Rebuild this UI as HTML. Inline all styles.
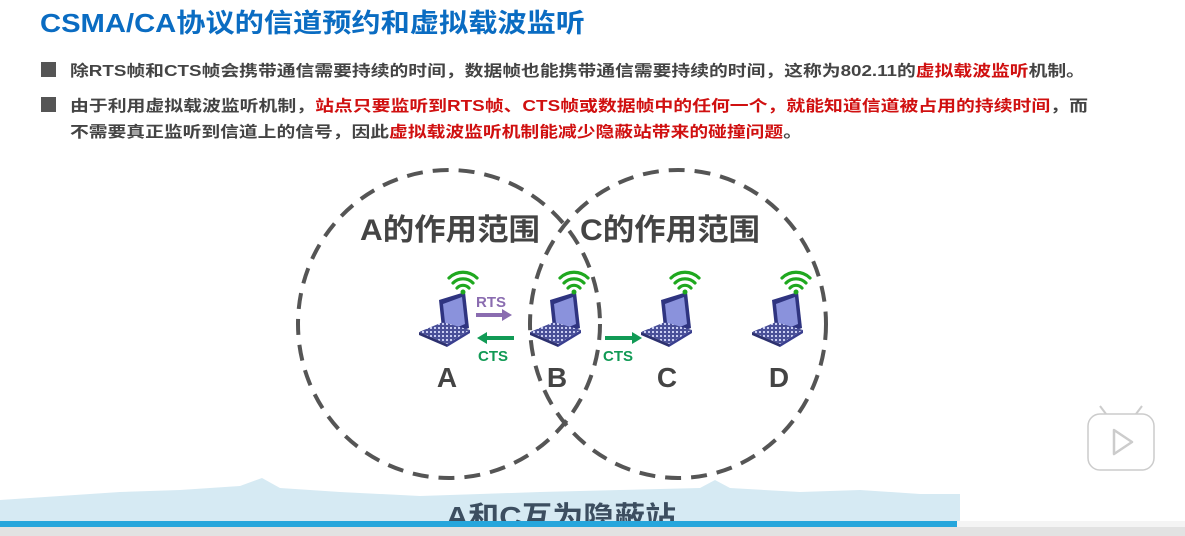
<!DOCTYPE html>
<html><head><meta charset="utf-8"><style>
html,body{margin:0;padding:0;background:#fff;}
svg{display:block;}
text{font-family:"Liberation Sans","Noto Sans CJK SC",sans-serif;font-weight:bold;}
</style></head><body>
<svg width="1185" height="536" viewBox="0 0 1185 536" xmlns="http://www.w3.org/2000/svg">
<rect width="1185" height="536" fill="#fff"/>
<text x="40" y="32" font-size="26" fill="#0a6cc2" textLength="545" lengthAdjust="spacingAndGlyphs">CSMA/CA协议的信道预约和虚拟载波监听</text>
<rect x="41" y="62" width="15" height="15" fill="#555"/>
<rect x="41" y="97" width="15" height="15" fill="#555"/>
<text x="70" y="76" font-size="15.5" fill="#444" textLength="1015" lengthAdjust="spacingAndGlyphs">除RTS帧和CTS帧会携带通信需要持续的时间，数据帧也能携带通信需要持续的时间，这称为802.11的<tspan fill="#d01010">虚拟载波监听</tspan>机制。</text>
<text x="70" y="111" font-size="15.5" fill="#444" textLength="1018" lengthAdjust="spacingAndGlyphs">由于利用虚拟载波监听机制，<tspan fill="#d01010">站点只要监听到RTS帧、CTS帧或数据帧中的任何一个，就能知道信道被占用的持续时间</tspan>，而</text>
<text x="70" y="137" font-size="15.5" fill="#444" textLength="732" lengthAdjust="spacingAndGlyphs">不需要真正监听到信道上的信号，因此<tspan fill="#d01010">虚拟载波监听机制能减少隐蔽站带来的碰撞问题</tspan>。</text>

<!-- bottom band -->
<path d="M0 500 L60 496 L120 492 L180 490 L240 486 L262 478 L280 488 L340 492 L420 496 L480 494 L540 492 L620 490 L700 488 L715 480 L730 488 L800 492 L860 490 L920 494 L960 494 L960 524 L0 524Z" fill="#d6eaf3"/>
<text x="446" y="526" font-size="28" fill="#3c4e60" textLength="230" lengthAdjust="spacingAndGlyphs">A和C互为隐蔽站</text>
<rect x="0" y="521" width="957" height="6" fill="#26a6dc"/>
<rect x="0" y="527" width="1185" height="9" fill="#e2e2e2"/>
<rect x="957" y="521" width="228" height="6" fill="#f4f4f4"/>

<!-- circles -->
<ellipse cx="449" cy="324" rx="151" ry="154" fill="none" stroke="#555" stroke-width="4" stroke-dasharray="16 10"/>
<ellipse cx="678" cy="324" rx="148" ry="154" fill="none" stroke="#555" stroke-width="4" stroke-dasharray="16 10"/>
<text x="360" y="240" font-size="30" fill="#444" textLength="180" lengthAdjust="spacingAndGlyphs">A的作用范围</text>
<text x="580" y="240" font-size="30" fill="#444" textLength="180" lengthAdjust="spacingAndGlyphs">C的作用范围</text>

<defs>
<pattern id="kb" width="4" height="4" patternUnits="userSpaceOnUse"><rect width="4" height="4" fill="#4a5098"/><rect x="1" y="1" width="2" height="2" fill="#c9cdf2"/></pattern>
<g id="lap">
<path d="M-6 -18 L20 -26 L24 10 L-2 20Z" fill="#2f3480"/>
<path d="M-2 -14 L17 -21 L20 6 L1 14Z" fill="#8a92dc"/>
<path d="M-26 14 L-2 4 L25 12 L2 26Z" fill="url(#kb)"/>
<path d="M-26 14 L2 26 L2 29 L-26 17Z" fill="#2d3170"/>
<path d="M2 26 L25 12 L25 15 L2 29Z" fill="#3a3f8f"/>
<g fill="none" stroke="#1fa81f" stroke-width="3.2" stroke-linecap="round">
<path d="M12 -30 a8 8 0 0 1 12 0"/>
<path d="M8 -35 a14 14 0 0 1 20 0"/>
<path d="M4 -40 a20 20 0 0 1 28 0"/>
</g>
<circle cx="18" cy="-26" r="2.5" fill="#1fa81f"/>
</g>
</defs>
<use href="#lap" x="445" y="318"/>
<use href="#lap" x="556" y="318"/>
<use href="#lap" x="667" y="318"/>
<use href="#lap" x="778" y="318"/>

<text x="476" y="307" font-size="15" fill="#8a6cb0">RTS</text>
<path d="M476 315 L504 315" stroke="#8a6cb0" stroke-width="4"/><path d="M502 309 L512 315 L502 321Z" fill="#8a6cb0"/>
<path d="M485 338 L514 338" stroke="#119a55" stroke-width="4"/><path d="M487 332 L477 338 L487 344Z" fill="#119a55"/>
<text x="478" y="361" font-size="15" fill="#119a55">CTS</text>
<path d="M605 338 L634 338" stroke="#119a55" stroke-width="4"/><path d="M632 332 L642 338 L632 344Z" fill="#119a55"/>
<text x="603" y="361" font-size="15" fill="#119a55">CTS</text>

<text x="447" y="387" font-size="28" fill="#444" text-anchor="middle">A</text>
<text x="557" y="387" font-size="28" fill="#444" text-anchor="middle">B</text>
<text x="667" y="387" font-size="28" fill="#444" text-anchor="middle">C</text>
<text x="779" y="387" font-size="28" fill="#444" text-anchor="middle">D</text>

<!-- play button -->
<rect x="1088" y="414" width="66" height="56" rx="12" fill="#fff" stroke="#ccc" stroke-width="1.5"/>
<path d="M1106 414 L1100 406 M1136 414 L1142 406" stroke="#ccc" stroke-width="2"/>
<path d="M1114 430 L1132 442 L1114 454Z" fill="none" stroke="#ccc" stroke-width="2.5" stroke-linejoin="round"/>
</svg>
</body></html>
